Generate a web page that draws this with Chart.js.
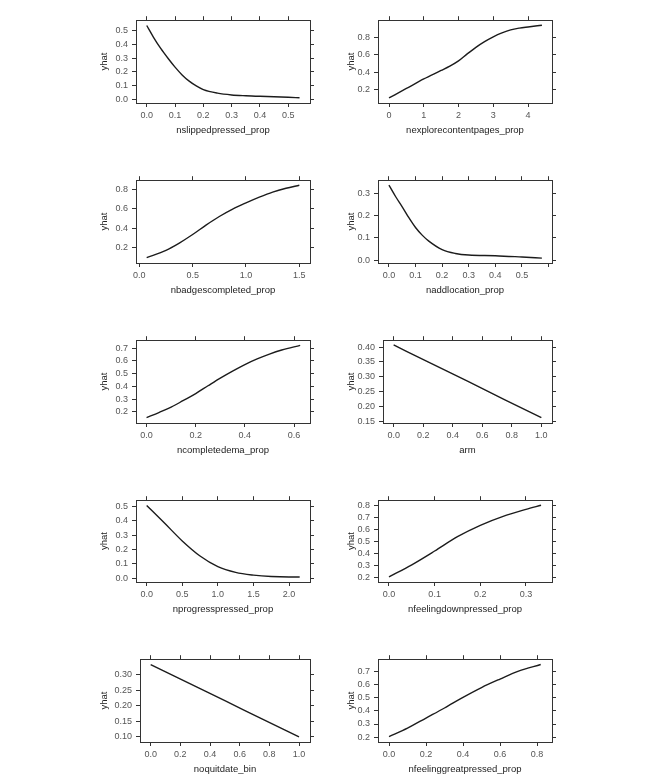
<!DOCTYPE html>
<html>
<head>
<meta charset="utf-8">
<script src="https://cdn.jsdelivr.net/npm/chart.js@4.4.1/dist/chart.umd.min.js"></script>
<style>
  body { margin: 0; background: #fff; }
  #page { position: relative; width: 666px; height: 781px; }
  #page canvas { position: absolute; }
</style>
</head>
<body>
<div id="page"></div>
<script>
// values, one small set per panel
const slippedX = [0, 0.025, 0.05, 0.075, 0.1, 0.125, 0.15, 0.175, 0.2, 0.25, 0.3, 0.35, 0.4, 0.45, 0.5, 0.54];
const slippedY = [0.54, 0.45, 0.37, 0.3, 0.235, 0.178, 0.132, 0.097, 0.07, 0.044, 0.031, 0.025, 0.021, 0.018, 0.014, 0.01];
const slippedXTicks = [0, 0.1, 0.2, 0.3, 0.4, 0.5];
const slippedYTicks = [0, 0.1, 0.2, 0.3, 0.4, 0.5];

const exploreX = [0, 0.5, 1, 1.5, 1.75, 2, 2.25, 2.5, 2.75, 3, 3.25, 3.5, 3.75, 4, 4.4];
const exploreY = [0.106, 0.214, 0.323, 0.42, 0.47, 0.53, 0.61, 0.685, 0.75, 0.805, 0.85, 0.885, 0.905, 0.918, 0.937];
const exploreXTicks = [0, 1, 2, 3, 4];
const exploreYTicks = [0.2, 0.4, 0.6, 0.8];

const badgesX = [0.069, 0.25, 0.375, 0.5, 0.625, 0.75, 0.875, 1.0, 1.125, 1.25, 1.375, 1.5];
const badgesY = [0.091, 0.167, 0.243, 0.332, 0.43, 0.52, 0.597, 0.662, 0.722, 0.775, 0.815, 0.846];
const badgesXTicks = [0, 0.5, 1, 1.5];
const badgesYTicks = [0.2, 0.4, 0.6, 0.8];

const locationX = [0, 0.025, 0.05, 0.075, 0.1, 0.125, 0.15, 0.2, 0.25, 0.3, 0.4, 0.5, 0.575];
const locationY = [0.336, 0.285, 0.239, 0.19, 0.146, 0.112, 0.085, 0.047, 0.03, 0.023, 0.02, 0.014, 0.009];
const locationXTicks = [0, 0.1, 0.2, 0.3, 0.4, 0.5, 0.6];
const locationYTicks = [0, 0.1, 0.2, 0.3];

const emaX = [0, 0.05, 0.1, 0.15, 0.2, 0.25, 0.3, 0.35, 0.4, 0.45, 0.5, 0.55, 0.625];
const emaY = [0.155, 0.195, 0.237, 0.29, 0.344, 0.405, 0.465, 0.52, 0.571, 0.615, 0.653, 0.685, 0.722];
const emaXTicks = [0, 0.2, 0.4, 0.6];
const emaYTicks = [0.2, 0.3, 0.4, 0.5, 0.6, 0.7];

const armX = [0, 0.25, 0.5, 0.75, 1];
const armY = [0.4075, 0.346, 0.285, 0.223, 0.162];
const armXTicks = [0, 0.2, 0.4, 0.6, 0.8, 1];
const armYTicks = [0.15, 0.2, 0.25, 0.3, 0.35, 0.4];

const progressX = [0, 0.25, 0.5, 0.75, 1, 1.25, 1.5, 1.75, 2, 2.15];
const progressY = [0.507, 0.385, 0.26, 0.155, 0.081, 0.041, 0.022, 0.012, 0.009, 0.009];
const progressXTicks = [0, 0.5, 1, 1.5, 2];
const progressYTicks = [0, 0.1, 0.2, 0.3, 0.4, 0.5];

const downX = [0, 0.05, 0.1, 0.15, 0.2, 0.25, 0.3, 0.333];
const downY = [0.203, 0.305, 0.42, 0.54, 0.635, 0.71, 0.768, 0.803];
const downXTicks = [0, 0.1, 0.2, 0.3];
const downYTicks = [0.2, 0.3, 0.4, 0.5, 0.6, 0.7, 0.8];

const quitX = [0, 0.25, 0.5, 0.75, 1];
const quitY = [0.3325, 0.274, 0.216, 0.157, 0.099];
const quitXTicks = [0, 0.2, 0.4, 0.6, 0.8, 1];
const quitYTicks = [0.1, 0.15, 0.2, 0.25, 0.3];

const greatX = [0, 0.1, 0.2, 0.3, 0.4, 0.5, 0.6, 0.7, 0.82];
const greatY = [0.205, 0.269, 0.345, 0.421, 0.502, 0.576, 0.64, 0.7, 0.75];
const greatXTicks = [0, 0.2, 0.4, 0.6, 0.8];
const greatYTicks = [0.2, 0.3, 0.4, 0.5, 0.6, 0.7];

const FONT = "'Liberation Sans', Arial, Helvetica, sans-serif";
const INK = "#333";
const LABEL = "#555";

// lattice-style panel boxes
const colLeft = [136, 378];
const colRight = [310, 552];
const titleLeft = [95, 342];
const rowTop = [15, 175, 335, 495, 654];
const rowBottom = [103, 263, 423, 582, 742];
const TOP_H = 5;
const RIGHT_W = 6;
const BOTTOM_H = 40;

const panels = [
  { title: "nslippedpressed_prop", xs: slippedX, ys: slippedY, xTicks: slippedXTicks, yTicks: slippedYTicks,
    xDec: 1, yDec: 1, xMin: -0.038, xMax: 0.577, yMin: -0.028, yMax: 0.579, col: 0, row: 0 },
  { title: "nexplorecontentpages_prop", xs: exploreX, ys: exploreY, xTicks: exploreXTicks, yTicks: exploreYTicks,
    xDec: 0, yDec: 1, xMin: -0.317, xMax: 4.69, yMin: 0.048, yMax: 0.995, col: 1, row: 0 },
  { title: "nbadgescompleted_prop", xs: badgesX, ys: badgesY, xTicks: badgesXTicks, yTicks: badgesYTicks,
    xDec: 1, yDec: 1, xMin: -0.031, xMax: 1.6, yMin: 0.035, yMax: 0.899, col: 0, row: 1 },
  { title: "naddlocation_prop", xs: locationX, ys: locationY, xTicks: locationXTicks, yTicks: locationYTicks,
    xDec: 1, yDec: 1, xLabelMax: 0.55, xMin: -0.041, xMax: 0.613, yMin: -0.0128, yMax: 0.358, col: 1, row: 1 },
  { title: "ncompletedema_prop", xs: emaX, ys: emaY, xTicks: emaXTicks, yTicks: emaYTicks,
    xDec: 1, yDec: 1, xMin: -0.043, xMax: 0.665, yMin: 0.113, yMax: 0.762, col: 0, row: 2 },
  { title: "arm", xs: armX, ys: armY, xTicks: armXTicks, yTicks: armYTicks,
    xDec: 1, yDec: 2, xMin: -0.072, xMax: 1.072, yMin: 0.1436, yMax: 0.4236, col: 1, row: 2, boxLeft: 383 },
  { title: "nprogresspressed_prop", xs: progressX, ys: progressY, xTicks: progressXTicks, yTicks: progressYTicks,
    xDec: 1, yDec: 1, xMin: -0.15, xMax: 2.295, yMin: -0.026, yMax: 0.544, col: 0, row: 3 },
  { title: "nfeelingdownpressed_prop", xs: downX, ys: downY, xTicks: downXTicks, yTicks: downYTicks,
    xDec: 1, yDec: 1, xMin: -0.024, xMax: 0.357, yMin: 0.161, yMax: 0.845, col: 1, row: 3 },
  { title: "noquitdate_bin", xs: quitX, ys: quitY, xTicks: quitXTicks, yTicks: quitYTicks,
    xDec: 1, yDec: 2, xMin: -0.072, xMax: 1.074, yMin: 0.0827, yMax: 0.35, col: 0, row: 4, boxLeft: 140 },
  { title: "nfeelinggreatpressed_prop", xs: greatX, ys: greatY, xTicks: greatXTicks, yTicks: greatYTicks,
    xDec: 1, yDec: 1, xMin: -0.0595, xMax: 0.881, yMin: 0.164, yMax: 0.79, col: 1, row: 4 },
];

const page = document.getElementById("page");

function makePanel(p) {
  const boxL = p.boxLeft ?? colLeft[p.col];
  const boxR = colRight[p.col];
  const boxT = rowTop[p.row];
  const boxB = rowBottom[p.row];
  const left = titleLeft[p.col];
  const top = boxT - TOP_H;
  const yW = boxL - left;

  const canvas = document.createElement("canvas");
  canvas.width = boxR + RIGHT_W - left;
  canvas.height = boxB + BOTTOM_H - top;
  canvas.style.left = left + "px";
  canvas.style.top = top + "px";
  page.appendChild(canvas);

  const setTicks = (vals) => (scale) => {
    scale.ticks = vals.map((v) => ({ value: v }));
  };
  const grid = { drawOnChartArea: false, drawTicks: true, tickLength: 4, color: INK, lineWidth: 1 };
  const border = { display: true, color: INK, width: 1 };
  const tickFont = { family: FONT, size: 9 };
  const titleFont = { family: FONT, size: 9.5 };
  const hidden = { autoSkip: false, maxRotation: 0, callback: () => "" };

  new Chart(canvas, {
    type: "line",
    data: {
      datasets: [
        {
          data: p.xs.map((x, i) => ({ x, y: p.ys[i] })),
          borderColor: "#1c1c1c",
          borderWidth: 1.4,
          pointRadius: 0,
          cubicInterpolationMode: "monotone",
          fill: false,
        },
      ],
    },
    options: {
      responsive: false,
      animation: false,
      events: [],
      layout: { padding: 0 },
      plugins: { legend: { display: false }, tooltip: { enabled: false } },
      scales: {
        x: {
          type: "linear",
          position: "bottom",
          min: p.xMin,
          max: p.xMax,
          afterBuildTicks: setTicks(p.xTicks),
          afterFit: (s) => { s.height = BOTTOM_H; },
          grid,
          border,
          ticks: {
            autoSkip: false,
            maxRotation: 0,
            padding: 3,
            font: tickFont,
            color: LABEL,
            callback: (v) => (p.xLabelMax !== undefined && v > p.xLabelMax ? "" : Number(v).toFixed(p.xDec)),
          },
          title: { display: true, text: p.title, font: titleFont, color: "#222", padding: { top: 0, bottom: 7 } },
        },
        x2: {
          type: "linear",
          position: "top",
          min: p.xMin,
          max: p.xMax,
          afterBuildTicks: setTicks(p.xTicks),
          afterFit: (s) => { s.height = TOP_H; },
          grid,
          border,
          ticks: hidden,
        },
        y: {
          type: "linear",
          position: "left",
          min: p.yMin,
          max: p.yMax,
          afterBuildTicks: setTicks(p.yTicks),
          afterFit: (s) => { s.width = yW; },
          grid,
          border,
          ticks: {
            autoSkip: false,
            padding: 4,
            font: tickFont,
            color: LABEL,
            callback: (v) => Number(v).toFixed(p.yDec),
          },
          title: { display: true, text: "yhat", font: titleFont, color: "#222", padding: { top: 4, bottom: 0 } },
        },
        y2: {
          type: "linear",
          position: "right",
          min: p.yMin,
          max: p.yMax,
          afterBuildTicks: setTicks(p.yTicks),
          afterFit: (s) => { s.width = RIGHT_W; },
          grid,
          border,
          ticks: hidden,
        },
      },
    },
  });
}

panels.forEach(makePanel);
</script>
</body>
</html>
